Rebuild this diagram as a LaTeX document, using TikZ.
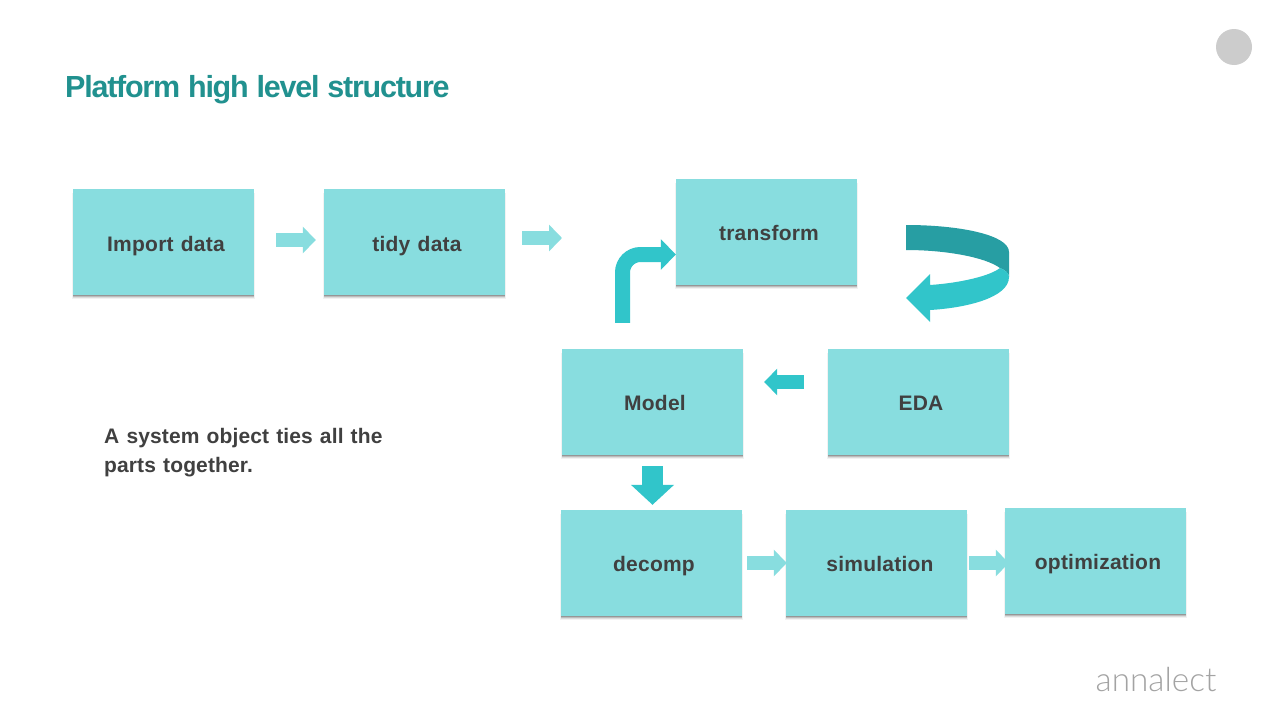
\documentclass[tikz,border=0pt]{standalone}
\usepackage{fontspec}
\setmainfont{Liberation Sans}
\newfontfamily\logofont{Lato}[UprightFont=* Light]
\newfontfamily\labelfont[LetterSpace=1.1,WordSpace=1.2]{Liberation Sans}
\newfontfamily\notefont[LetterSpace=0.6,WordSpace=1.2]{Liberation Sans}
\newfontfamily\titlefont[LetterSpace=-4.1,WordSpace=1.1]{Liberation Sans}
\usetikzlibrary{arrows.meta,shadows,calc}
\definecolor{boxcol}{HTML}{88DDDF}
\definecolor{tealcol}{HTML}{31C5CA}
\definecolor{darkteal}{HTML}{279EA3}
\definecolor{titlecol}{HTML}{21918F}
\definecolor{textcol}{HTML}{404040}
\tikzset{
  softlayer/.style n args={3}{general shadow={shadow xshift=0pt,shadow yshift=#1,shadow scale=#3,fill=black,opacity=#2}},
  procbox/.style={fill=boxcol,minimum width=181pt,minimum height=106pt,inner sep=0pt,
    softlayer={-4pt}{0.05}{1.006},softlayer={-3pt}{0.09}{1.004},softlayer={-2.2pt}{0.14}{1.002},softlayer={-1.2pt}{0.2}{1}},
  boxlabel/.style={anchor=base,text=textcol,font=\labelfont\bfseries\fontsize{21}{25}\selectfont,inner sep=0pt},
  lightarrow/.style={draw=boxcol,line width=14pt,-{Triangle[length=13pt,width=26pt]}},
  strongarrow/.style={draw=tealcol,line width=14pt,-{Triangle[length=13pt,width=26pt]}},
}
\begin{document}
\begin{tikzpicture}[x=1pt,y=-1pt]
\useasboundingbox (0,0) rectangle (1280,720);
\fill[white] (0,0) rectangle (1280,720);
% title, decoration
\node[anchor=base west,inner sep=0pt,text=titlecol,font=\titlefont\bfseries\fontsize{30.5}{38}\selectfont] (title) at (65,97.3) {Platform high level structure};
\fill[black!20] (1234,47) circle (18);
\node[anchor=base west,inner sep=0pt,text=black!36,font=\logofont\fontsize{33.3}{40}\selectfont] (logo) at (1095.5,691.5) {annalect};
% boxes
\node[procbox] (import) at (163.5,242) {};
\node[procbox] (tidy) at (414.5,242) {};
\node[procbox] (transform) at (766.5,232) {};
\node[procbox] (model) at (652.5,402) {};
\node[procbox] (eda) at (918.5,402) {};
\node[procbox] (decomp) at (651.5,563) {};
\node[procbox] (simulation) at (876.5,563) {};
\node[procbox] (optimization) at (1095.5,561) {};
% labels
\node[boxlabel] (importT) at (166,251) {Import data};
\node[boxlabel] (tidyT) at (417,251) {tidy data};
\node[boxlabel] (transformT) at (769,240) {transform};
\node[boxlabel] (modelT) at (655,410) {Model};
\node[boxlabel] (edaT) at (921,410) {EDA};
\node[boxlabel] (decompT) at (654,571) {decomp};
\node[boxlabel] (simulationT) at (880,571) {simulation};
\node[boxlabel] (optimizationT) at (1098,569) {optimization};
\node[anchor=base west,inner sep=0pt,text=textcol,font=\notefont\bfseries\fontsize{21}{29}\selectfont,align=left] (note) at (104,472) {A system object ties all the\\parts together.};
% connectors
\coordinate (tidyEnd) at (562,238);
\draw[lightarrow] ([xshift=22pt,yshift=2pt]import.east) -- ([xshift=-8pt,yshift=2pt]tidy.west);
\draw[lightarrow] ([xshift=17pt]tidy.east |- tidyEnd) -- (tidyEnd);
\draw[lightarrow] ([xshift=5pt]decomp.east) -- ([xshift=1pt]simulation.west);
\draw[lightarrow] ([xshift=2pt]simulation.east) -- ([xshift=4pt]optimization.west |- simulation.east);
\draw[strongarrow] ([xshift=-24pt,yshift=20pt]eda.west) -- ([xshift=21pt,yshift=20pt]model.east);
\draw[draw=tealcol,line width=21pt,-{Triangle[length=20pt,width=42pt]}] ([yshift=-11pt]model.south) -- ([yshift=5pt]decomp.north -| model.south);
\draw[draw=tealcol,line width=15pt,rounded corners=18pt,-{Triangle[length=15pt,width=30pt]}] ([xshift=-30pt,yshift=26pt]model.north) |- ([yshift=-22.5pt]transform.west);
% curved arrow transform -> EDA side
\fill[darkteal] (906,225) .. controls (960,225) and (1009,235) .. (1009,252) -- (1009,277) .. controls (1009,273) and (1005,270) .. (1000,268) .. controls (985,257) and (945,250) .. (906,250) -- cycle;
\fill[tealcol] (1000,268) .. controls (1005,270) and (1009,273) .. (1009,277) .. controls (1009,298) and (965,308) .. (930,310) -- (930,322) -- (906,298) -- (930,274) -- (930,285) .. controls (960,283) and (990,276) .. (1000,268) -- cycle;
\end{tikzpicture}
\end{document}
